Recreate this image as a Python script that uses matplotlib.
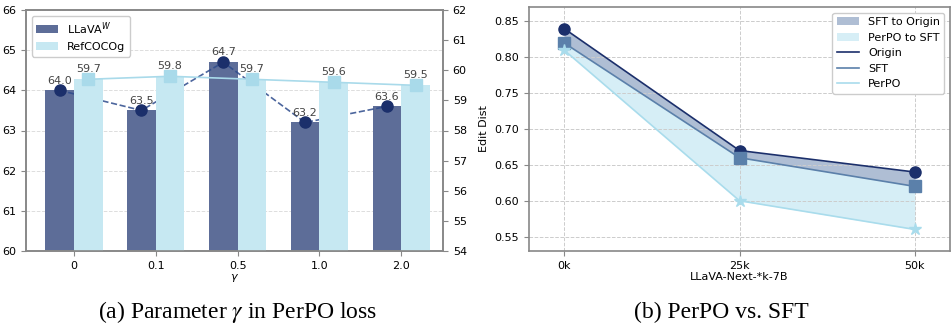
import matplotlib.pyplot as plt
import numpy as np

# datos panel (a)
gammas = ['0', '0.1', '0.5', '1.0', '2.0']
llava_w = [64.0, 63.5, 64.7, 63.2, 63.6]
refcocog = [59.7, 59.8, 59.7, 59.6, 59.5]

# datos panel (b)
sizes = ['0k', '25k', '50k']
origin = [0.84, 0.67, 0.64]
sft = [0.82, 0.66, 0.62]
perpo = [0.81, 0.60, 0.56]

c_dark = '#5d6d98'
c_light = '#c6e8f2'
c_navy = '#1b2f6b'
c_mark_l = '#a9daea'
c_sft = '#5b80aa'
c_perpo = '#a9dcec'
c_frame = '#888888'

fig = plt.figure(figsize=(9.51, 3.26), dpi=100)

# (a)
ax1 = fig.add_axes([26/951, 1-251/326, (443-26)/951, (251-10)/326])
ax2 = ax1.twinx()
x = np.arange(len(gammas))
w = 0.35
ax1.bar(x - w/2, llava_w, w, color=c_dark, label='LLaVA$^W$', zorder=2)
ax2.bar(x + w/2, refcocog, w, color=c_light, label='RefCOCOg', zorder=2)
ax1.plot(x - w/2, llava_w, '--', color='#2d4b8c', lw=1.2, alpha=0.85, zorder=4)
ax1.plot(x - w/2, llava_w, 'o', color=c_navy, ms=8, zorder=5)
ax2.plot(x + w/2, refcocog, '-', color=c_mark_l, lw=1.2, zorder=4)
ax2.plot(x + w/2, refcocog, 's', color=c_mark_l, ms=8, zorder=5)
for xi, v in zip(x, llava_w):
    ax1.text(xi - w/2, v + 0.12, f'{v:.1f}', ha='center', va='bottom', fontsize=8, color='#444444', zorder=6)
for xi, v in zip(x, refcocog):
    ax2.text(xi + w/2, v + 0.16, f'{v:.1f}', ha='center', va='bottom', fontsize=8, color='#444444', zorder=6)
ax1.set_ylim(60, 66)
ax2.set_ylim(54, 62)
ax1.set_xlim(-0.585, 4.51)
ax1.set_xticks(x)
ax1.set_xticklabels(gammas)
ax1.set_xlabel('$\\gamma$', fontsize=8, labelpad=1)
ax1.yaxis.grid(True, ls='--', color='#dddddd', lw=0.7)
ax1.set_axisbelow(True)
ax1.tick_params(labelsize=8, color=c_frame)
ax2.tick_params(labelsize=8, color=c_frame)
for ax in (ax1, ax2):
    for s in ax.spines.values():
        s.set_color(c_frame)
        s.set_linewidth(1.2)
h1, l1 = ax1.get_legend_handles_labels()
h2, l2 = ax2.get_legend_handles_labels()
ax1.legend(h1 + h2, l1 + l2, loc='upper left', fontsize=8, framealpha=1, edgecolor='#cccccc')

# (b)
ax3 = fig.add_axes([529/951, 1-251/326, (950-529)/951, (251-7)/326])
xb = np.arange(len(sizes))
ax3.fill_between(xb, sft, origin, color='#8da3c2', alpha=0.7, label='SFT to Origin', lw=0)
ax3.fill_between(xb, perpo, sft, color='#c9e9f4', alpha=0.75, label='PerPO to SFT', lw=0)
ax3.plot(xb, origin, '-', color=c_navy, lw=1.2, label='Origin')
ax3.plot(xb, sft, '-', color=c_sft, lw=1.2, label='SFT')
ax3.plot(xb, perpo, '-', color=c_perpo, lw=1.2, label='PerPO')
ax3.plot(xb, origin, 'o', color=c_navy, ms=8)
ax3.plot(xb, sft, 's', color=c_sft, ms=8)
ax3.plot(xb, perpo, '*', color=c_perpo, ms=9)
ax3.set_xlim(-0.2, 2.2)
ax3.set_ylim(0.53, 0.87)
ax3.set_xticks(xb)
ax3.set_xticklabels(sizes)
ax3.set_yticks([0.55, 0.60, 0.65, 0.70, 0.75, 0.80, 0.85])
ax3.grid(True, ls='--', color='#cccccc', lw=0.7)
ax3.set_xlabel('LLaVA-Next-*k-7B', fontsize=8, labelpad=1)
ax3.set_ylabel('Edit Dist', fontsize=8)
ax3.tick_params(labelsize=8, color=c_frame)
for s in ax3.spines.values():
    s.set_color(c_frame)
    s.set_linewidth(1.2)
ax3.legend(loc='upper right', fontsize=8, framealpha=1, edgecolor='#cccccc')

# captions
fig.text(238/951, 1-312/326, '(a) Parameter $\\gamma$ in PerPO loss', ha='center', va='center',
         fontsize=17, family='Liberation Serif', math_fontfamily='stix')
fig.text(721/951, 1-312/326, '(b) PerPO vs. SFT', ha='center', va='center',
         fontsize=17, family='Liberation Serif')

fig.savefig('out.png', dpi=100)
